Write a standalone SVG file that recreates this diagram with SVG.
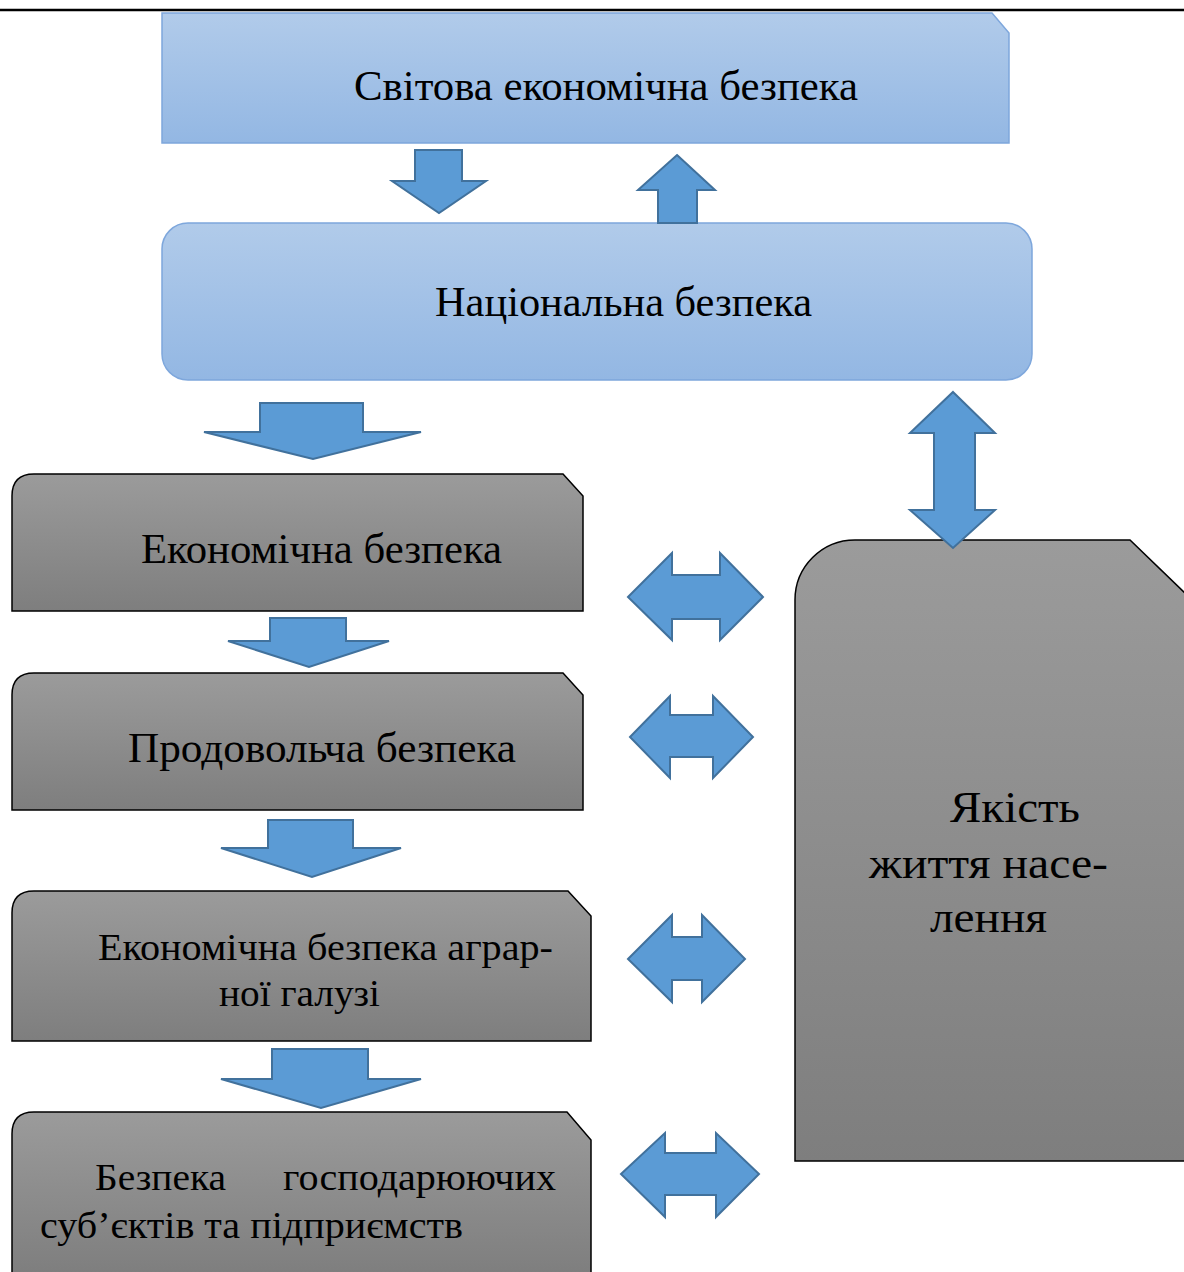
<svg xmlns="http://www.w3.org/2000/svg" width="1184" height="1272" viewBox="0 0 1184 1272">
<defs>
<linearGradient id="blue" x1="0" y1="0" x2="0" y2="1">
<stop offset="0" stop-color="#b1cbea"/>
<stop offset="1" stop-color="#93b7e3"/>
</linearGradient>
<linearGradient id="gray" x1="0" y1="0" x2="0" y2="1">
<stop offset="0" stop-color="#9b9b9b"/>
<stop offset="1" stop-color="#7e7e7e"/>
</linearGradient>
<style>
.bnode{fill:url(#blue);stroke:#7ea7dc;stroke-width:1.5}
.gnode{fill:url(#gray);stroke:#000;stroke-width:1.5}
.arr{fill:#5b9bd5;stroke:#41719c;stroke-width:2;stroke-linejoin:miter}
.t{font-family:"Liberation Serif","Times New Roman",serif;fill:#000}
</style>
</defs>
<rect width="1184" height="1272" fill="#fff"/>
<line x1="0" y1="10" x2="1184" y2="10" stroke="#000" stroke-width="2.5"/>

<g id="node-world">
<path class="bnode" d="M162,13 H992 L1009,33 V143 H162 Z"/>
<text class="t" x="354" y="100" font-size="42" textLength="504" lengthAdjust="spacingAndGlyphs">Світова економічна безпека</text>
</g>

<g id="node-national">
<rect class="bnode" x="162" y="223" width="870" height="157" rx="26" ry="26"/>
<text class="t" x="435" y="316" font-size="42" textLength="377" lengthAdjust="spacingAndGlyphs">Національна безпека</text>
</g>

<g id="node-economic">
<path class="gnode" d="M12,611 V496 Q12,474 34,474 H563 L583,496 V611 Z"/>
<text class="t" x="141" y="563" font-size="42" textLength="361" lengthAdjust="spacingAndGlyphs">Економічна безпека</text>
</g>

<g id="node-food">
<path class="gnode" d="M12,810 V695 Q12,673 34,673 H563 L583,695 V810 Z"/>
<text class="t" x="128" y="762" font-size="42" textLength="388" lengthAdjust="spacingAndGlyphs">Продовольча безпека</text>
</g>

<g id="node-agrarian">
<path class="gnode" d="M12,1041 V913 Q12,891 34,891 H568 L591,916 V1041 Z"/>
<text class="t" x="98" y="960" font-size="38" textLength="455" lengthAdjust="spacingAndGlyphs">Економічна безпека аграр-</text>
<text class="t" x="219" y="1006" font-size="38" textLength="161" lengthAdjust="spacingAndGlyphs">ної галузі</text>
</g>

<g id="node-enterprises">
<path class="gnode" d="M12,1275 V1134 Q12,1112 34,1112 H567 L591,1140 V1275 Z"/>
<text class="t" x="95" y="1190" font-size="38" textLength="131" lengthAdjust="spacingAndGlyphs">Безпека</text>
<text class="t" x="283" y="1190" font-size="38" textLength="273" lengthAdjust="spacingAndGlyphs">господарюючих</text>
<text class="t" x="40" y="1238" font-size="38" textLength="423" lengthAdjust="spacingAndGlyphs">суб’єктів та підприємств</text>
</g>

<g id="node-quality">
<path class="gnode" d="M795,1161 V600 A60,60 0 0 1 855,540 H1130 L1188,596 V1161 Z"/>
<text class="t" x="950" y="822" font-size="44" textLength="130" lengthAdjust="spacingAndGlyphs">Якість</text>
<text class="t" x="869" y="878" font-size="44" textLength="239" lengthAdjust="spacingAndGlyphs">життя насе-</text>
<text class="t" x="930" y="932" font-size="44" textLength="117" lengthAdjust="spacingAndGlyphs">лення</text>
</g>

<g id="connectors">
<path class="arr" d="M415,150 H462 V181 H486 L439,213 L392,181 H415 Z"/>
<path class="arr" d="M677,155 L715,190 H697 V223 H658 V190 H638 Z"/>
<path class="arr" d="M260,403 H363 V432 H421 L313,459 L204,432 H260 Z"/>
<path class="arr" d="M953,392 L995,433 H975 V510 H995 L953,548 L910,510 H934 V433 H910 Z"/>
<path class="arr" d="M270,618 H346 V641 H389 L309,667 L228,641 H270 Z"/>
<path class="arr" d="M268,820 H353 V848 H401 L312,877 L221,848 H268 Z"/>
<path class="arr" d="M272,1049 H368 V1079 H421 L321,1108 L221,1079 H272 Z"/>
<path class="arr" d="M628,597 L672,553 V575 H720 V553 L763,597 L720,640 V619 H672 V640 Z"/>
<path class="arr" d="M630,737 L670,696 V715 H713 V696 L753,737 L713,778 V757 H670 V778 Z"/>
<path class="arr" d="M628,959 L672,915 V937 H702 V915 L745,959 L702,1002 V980 H672 V1002 Z"/>
<path class="arr" d="M621,1174 L665,1133 V1153 H716 V1133 L759,1174 L716,1217 V1195 H665 V1217 Z"/>
</g>
</svg>
